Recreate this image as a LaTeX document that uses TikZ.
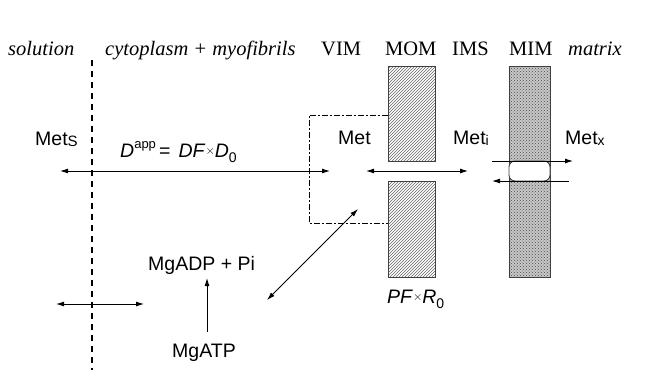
\documentclass[tikz,border=0pt]{standalone}
\usepackage{fontspec}
\setmainfont{Liberation Sans}
\newfontfamily\tmsfont{Liberation Serif}
\usetikzlibrary{arrows.meta,patterns}
\tikzset{
  lbl/.style={font=\fontsize{19.5}{22}\selectfont, inner sep=0pt, anchor=base west},
  hdr/.style={font=\tmsfont\fontsize{20.5}{24}\selectfont, inner sep=0pt, anchor=base west},
  tip/.tip={Latex[length=8pt,width=5pt]},
  arr/.style={line width=0.9pt, -tip},
  darr/.style={line width=0.9pt, tip-tip},
  mom/.style={draw=black!75, line width=0.9pt, pattern=north east lines, pattern color=black!60},
  mim/.style={draw=black!75, line width=0.9pt, fill=black!22, postaction={pattern=crosshatch dots, pattern color=black!70}},
  divider/.style={line width=1.8pt, dash pattern=on 6pt off 5pt},
  vimbox/.style={line width=0.8pt, dash pattern=on 6pt off 2pt on 2pt off 2pt},
}
\newcommand{\smx}{\raisebox{3pt}{\fontsize{13}{14}\selectfont $\times$}}
\begin{document}
\begin{tikzpicture}[x=1pt,y=-1pt]
\useasboundingbox (0,0) rectangle (652,391);
% header
\node[hdr] (hsol) at (8,55) {\itshape solution};
\node[hdr] (hcyt) at (105,55) {\itshape cytoplasm + myofibrils};
\node[hdr] (hvim) at (321,55) {VIM};
\node[hdr] (hmom) at (385,55) {MOM};
\node[hdr] (hims) at (452,55) {IMS};
\node[hdr] (hmim) at (509,55) {MIM};
\node[hdr] (hmat) at (568,55) {\itshape matrix};
% divider
\coordinate (dtop) at (92,60);
\coordinate (dbot) at (92,370);
\draw[divider] (dtop) -- (dbot);
% membranes
\draw[mom] (388,66) rectangle (435,161);
\draw[mom] (388,181) rectangle (435,277);
\draw[mim] (509,66) rectangle (550,277);
\draw[draw=black!75, line width=0.9pt, fill=white, rounded corners=6pt] (509,161) rectangle (550,181);
% VIM box
\draw[vimbox] (388,115) -- (309,115) -- (309,223) -- (388,223);
% labels
\node[lbl] (mets) at (35,145) {Met\raisebox{-1pt}{\fontsize{15}{16}\selectfont S}};
\node[lbl] (dapp) at (120,157) {\textit{D}\raisebox{9pt}{\fontsize{13}{15}\selectfont app}\,=\hspace{8pt}\textit{DF}\smx\textit{D}\raisebox{-5pt}{\fontsize{14}{16}\selectfont 0}};
\node[lbl] (met) at (338,144) {Met};
\node[lbl] (meti) at (453,144) {Met\raisebox{-1pt}{\fontsize{14}{16}\selectfont i}};
\node[lbl] (metx) at (565,144) {Met\raisebox{-1pt}{\fontsize{14}{16}\selectfont x}};
\node[lbl] (mgadp) at (148,270) {MgADP + Pi};
\node[lbl] (mgatp) at (172,357) {MgATP};
\node[lbl] (pfr) at (387,303) {\textit{PF}\smx\textit{R}\raisebox{-5pt}{\fontsize{14}{16}\selectfont 0}};
% arrows
\coordinate (a1l) at (60,171);
\coordinate (a1r) at (330,171);
\draw[darr] (a1l) -- (a1r);
\coordinate (a2l) at (366,171);
\coordinate (a2r) at (468,171);
\draw[darr] (a2l) -- (a2r);
\coordinate (a3l) at (492,161);
\coordinate (a3r) at (573,161);
\draw[arr] (a3l) -- (a3r);
\coordinate (a4r) at (569,181);
\coordinate (a4l) at (492,181);
\draw[arr] (a4r) -- (a4l);
\coordinate (d1) at (358,209);
\coordinate (d2) at (267,300);
\draw[darr] (d1) -- (d2);
\coordinate (atpup) at (207,332);
\coordinate (adpdn) at (207,278);
\draw[arr] (atpup) -- (adpdn);
\coordinate (b1) at (56,304);
\coordinate (b2) at (144,304);
\draw[darr] (b1) -- (b2);
\end{tikzpicture}
\end{document}
